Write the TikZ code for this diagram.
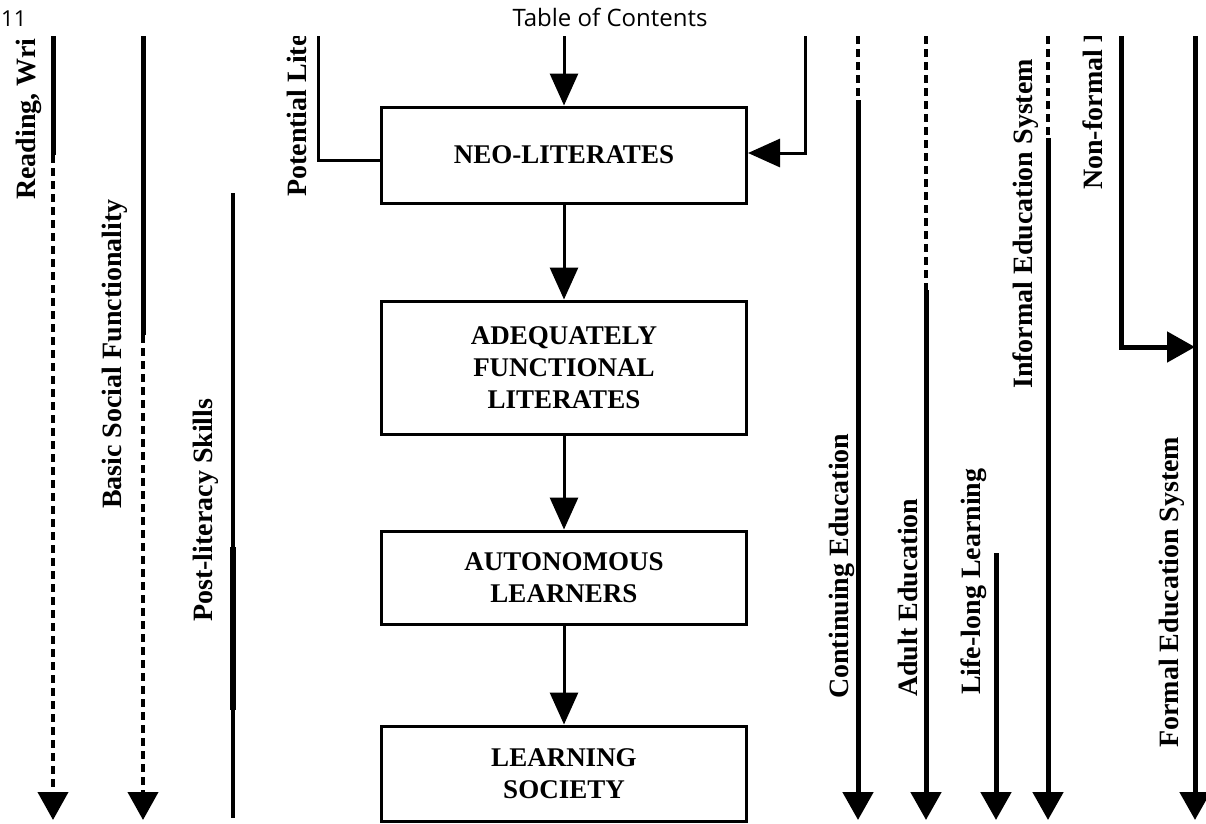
\documentclass[tikz,border=0pt]{standalone}
\usepackage{fontspec}
\setmainfont{Liberation Serif}
\newfontfamily\headfont{Open Sans}
\usetikzlibrary{arrows.meta}

\newcommand{\boxfont}{\fontsize{27}{32}\selectfont\bfseries}
\newcommand{\labfont}{\fontsize{28}{32}\selectfont\bfseries}

\tikzset{
	stage/.style={draw, line width=3pt, minimum width=365pt, align=center, font=\boxfont, inner sep=0pt},
	flow/.style={line width=3pt, -{Triangle[width=28pt,length=32pt]}},
	track/.style={line width=5pt},
	dashtrack/.style={line width=4pt, dash pattern=on 8pt off 5pt},
	tip/.style={-{Triangle[width=30pt,length=28pt]}},
	lab/.style={rotate=90, anchor=base west, font=\labfont, inner sep=0pt},
}

\begin{document}
\begin{tikzpicture}[x=1pt,y=-1pt]

\useasboundingbox (0,0) rectangle (1206,823);

%Header
\node[font=\headfont\fontsize{22}{26}\selectfont, anchor=base west, inner sep=0pt] (pagenum) at (1,26) {11};
\node[font=\headfont\fontsize{24}{28}\selectfont, anchor=base, inner sep=0pt] (header) at (610,26) {Table of Contents};

\begin{scope}
\clip (0,36) rectangle (1206,823);

%Stages
\node[stage, minimum height=96pt] (neo) at (564,155) {NEO-LITERATES};
\node[stage, minimum height=133pt] (adequate) at (564,367.5) {ADEQUATELY\\FUNCTIONAL\\LITERATES};
\node[stage, minimum height=93pt] (autonomous) at (564,577.5) {AUTONOMOUS\\LEARNERS};
\node[stage, minimum height=95pt] (society) at (564,773.5) {LEARNING\\SOCIETY};

%Coordinates
\coordinate (in) at (564,36);
\coordinate (potential) at (318,36);
\coordinate (informal-in) at (805,36);

\coordinate (reading) at (53,36);
\coordinate (reading') at (53,155);
\coordinate (basic) at (143,36);
\coordinate (basic') at (143,335);
\coordinate (postlit) at (233,193);

\coordinate (contin) at (858,36);
\coordinate (contin') at (858,100);
\coordinate (adult) at (926,36);
\coordinate (adult') at (926,290);
\coordinate (lifelong') at (996,553);
\coordinate (infsys) at (1048,36);
\coordinate (infsys') at (1048,138);
\coordinate (nonformal) at (1121,36);
\coordinate (formal) at (1195,36);
\coordinate (formal-join) at (1195,347);

%Flow between stages
\draw[flow] (in) -- (neo.north);
\draw[flow] (neo.south) -- (adequate.north);
\draw[flow] (adequate.south) -- (autonomous.north);
\draw[flow] (autonomous.south) -- (society.north);

\draw[line width=3pt] (potential) |- ([yshift=-5pt]neo.west);
\draw[flow] (informal-in) |- ([yshift=2pt]neo.east);

%Left tracks
\draw[track] (reading) -- (reading');
\draw[dashtrack, tip] (reading') -- (53,820);
\draw[track] (basic) -- (basic');
\draw[dashtrack, tip] (basic') -- (143,820);
\draw[line width=4pt] (postlit) -- (233,818);
\draw[line width=6pt] (233,547) -- (233,710);

%Right tracks
\draw[dashtrack] (contin) -- (contin');
\draw[dashtrack] (adult) -- (adult');
\draw[dashtrack] (infsys) -- (infsys');
\foreach \top in {contin', adult', lifelong', infsys', formal}
{
	\draw[track, tip] (\top) -- (\top |- 0,820);
}
\draw[track, tip] (nonformal) |- (formal-join);

% Labels
\node[lab] (l-reading) at (35,200) {Reading, Wri};
\node[lab] (l-basic) at (121,509) {Basic Social Functionality};
\node[lab] (l-post) at (212,622) {Post-literacy Skills};
\node[lab] (l-potential) at (306,197) {Potential Lite};

\node[lab] (l-contin) at (848,699) {Continuing Education};
\node[lab] (l-adult) at (917,697) {Adult Education};
\node[lab] (l-lifelong) at (980,695) {Life-long Learning};
\node[lab] (l-informal) at (1032,389) {Informal Education System};
\node[lab] (l-nonformal) at (1102,190) {Non-formal E};
\node[lab] (l-formal) at (1178,748) {Formal Education System};

\end{scope}

\end{tikzpicture}
\end{document}
